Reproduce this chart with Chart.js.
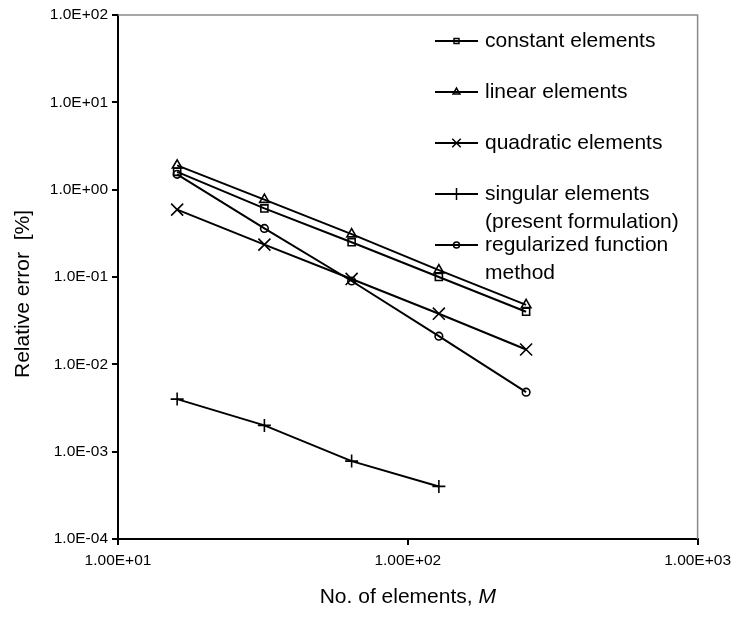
<!DOCTYPE html>
<html><head><meta charset="utf-8">
<script src="https://cdn.jsdelivr.net/npm/chart.js@4/dist/chart.umd.min.js"></script>
<style>html,body{margin:0;padding:0;background:#fff}#wrap{width:737px;height:619px;position:relative}</style>
</head><body><div id="wrap"><canvas id="c"></canvas></div>
<script>
// ---- data ----
const elementCounts = [16, 32, 64, 128, 256];
const constantElements = [1.6, 0.61, 0.25, 0.10, 0.040];
const linearElements = [1.9, 0.77, 0.31, 0.12, 0.048];
const quadraticElements = [0.59, 0.235, 0.095, 0.038, 0.0148];
const singularElements = [0.0040, 0.0020, 0.00078, 0.00040];
const regularizedMethod = [1.5, 0.36, 0.09, 0.021, 0.0048];

const xTickValues = [10, 100, 1000];
const xTickLabels = ['1.00E+01', '1.00E+02', '1.00E+03'];
const yTickValues = [1e-4, 1e-3, 1e-2, 1e-1, 1, 10, 100];
const yTickLabels = ['1.0E-04', '1.0E-03', '1.0E-02', '1.0E-01', '1.0E+00', '1.0E+01', '1.0E+02'];

const seriesNames = [
  ['constant elements'],
  ['linear elements'],
  ['quadratic elements'],
  ['singular elements', '(present formulation)'],
  ['regularized function', 'method']
];
const seriesValues = [constantElements, linearElements, quadraticElements, singularElements, regularizedMethod];
const seriesStyles = ['rect', 'triangle', 'crossRot', 'cross', 'circle'];
const seriesRadius = [5, 5.5, 8.5, 6.5, 3.8];
const legendRadius = [3.5, 4, 6, 6, 3];

const FONT = '"Liberation Sans", Arial, sans-serif';

function toPoints(vals) {
  return vals.map((v, i) => ({ x: elementCounts[i], y: v }));
}

const datasets = seriesValues.map((vals, i) => ({
  label: seriesNames[i].join(' '),
  data: toPoints(vals),
  borderColor: '#000',
  borderWidth: 2,
  pointStyle: seriesStyles[i],
  pointRadius: seriesRadius[i],
  pointBorderColor: '#000',
  pointBackgroundColor: 'rgba(0,0,0,0)',
  pointBorderWidth: 1.6,
  fill: false,
  tension: 0
}));

function drawMarker(ctx, style, x, y, r) {
  ctx.beginPath();
  if (style === 'rect') {
    const s = Math.SQRT1_2 * r;
    ctx.rect(x - s, y - s, 2 * s, 2 * s);
  } else if (style === 'triangle') {
    ctx.moveTo(x, y - r);
    ctx.lineTo(x + r * Math.sin(Math.PI / 3), y + r / 2);
    ctx.lineTo(x - r * Math.sin(Math.PI / 3), y + r / 2);
    ctx.closePath();
  } else if (style === 'crossRot') {
    const s = Math.SQRT1_2 * r;
    ctx.moveTo(x - s, y - s); ctx.lineTo(x + s, y + s);
    ctx.moveTo(x - s, y + s); ctx.lineTo(x + s, y - s);
  } else if (style === 'cross') {
    ctx.moveTo(x, y - r); ctx.lineTo(x, y + r);
    ctx.moveTo(x - r, y); ctx.lineTo(x + r, y);
  } else if (style === 'circle') {
    ctx.arc(x, y, r, 0, Math.PI * 2);
  }
  ctx.stroke();
}

const decorPlugin = {
  id: 'decor',
  beforeDraw(chart) {
    const ctx = chart.ctx;
    ctx.save();
    ctx.fillStyle = '#fff';
    ctx.fillRect(0, 0, chart.width, chart.height);
    ctx.restore();
  },
  beforeDatasetsDraw(chart) {
    const { ctx, chartArea: a } = chart;
    ctx.save();
    ctx.strokeStyle = '#8a8a8a';
    ctx.lineWidth = 1.5;
    ctx.beginPath();
    ctx.moveTo(a.left, a.top);
    ctx.lineTo(a.right, a.top);
    ctx.lineTo(a.right, a.bottom);
    ctx.stroke();
    ctx.restore();
  },
  afterDraw(chart) {
    const { ctx, chartArea: a } = chart;
    ctx.save();
    // legend
    ctx.font = '21px ' + FONT;
    ctx.fillStyle = '#000';
    ctx.strokeStyle = '#000';
    ctx.textBaseline = 'middle';
    ctx.textAlign = 'left';
    const lx0 = a.left + 317, lx1 = a.left + 360, tx = a.left + 367;
    let y = a.top + 26;
    seriesNames.forEach((lines, i) => {
      ctx.lineWidth = 2;
      ctx.beginPath();
      ctx.moveTo(lx0, y); ctx.lineTo(lx1, y);
      ctx.stroke();
      ctx.lineWidth = 1.5;
      drawMarker(ctx, seriesStyles[i], (lx0 + lx1) / 2, y, legendRadius[i]);
      lines.forEach((t, k) => ctx.fillText(t, tx, y + k * 28));
      y += 51;
    });
    // y axis title
    ctx.save();
    ctx.translate(23, a.top + 279);
    ctx.rotate(-Math.PI / 2);
    ctx.textAlign = 'center';
    ctx.textBaseline = 'middle';
    ctx.font = '21px ' + FONT;
    ctx.fillText('Relative error  [%]', 0, 0);
    ctx.restore();
    // x axis title with italic M
    const part1 = 'No. of elements, ';
    const part2 = 'M';
    ctx.font = '21px ' + FONT;
    const w1 = ctx.measureText(part1).width;
    ctx.font = 'italic 21px ' + FONT;
    const w2 = ctx.measureText(part2).width;
    const cx = (a.left + a.right) / 2;
    const ty = a.bottom + 58;
    let sx = cx - (w1 + w2) / 2;
    ctx.textAlign = 'left';
    ctx.textBaseline = 'middle';
    ctx.font = '21px ' + FONT;
    ctx.fillText(part1, sx, ty);
    ctx.font = 'italic 21px ' + FONT;
    ctx.fillText(part2, sx + w1, ty);
    ctx.restore();
  }
};

new Chart(document.getElementById('c'), {
  type: 'line',
  data: { datasets },
  plugins: [decorPlugin],
  options: {
    responsive: true,
    maintainAspectRatio: false,
    animation: false,
    layout: { padding: { left: 0, right: 39, top: 15, bottom: 0 } },
    plugins: { legend: { display: false }, tooltip: { enabled: false } },
    scales: {
      x: {
        type: 'logarithmic',
        min: 10, max: 1000,
        afterBuildTicks: s => { s.ticks = xTickValues.map(v => ({ value: v })); },
        afterFit: s => { s.height = 80; },
        ticks: {
          autoSkip: false, maxRotation: 0, color: '#000', padding: 6,
          font: { family: FONT, size: 15.5 },
          callback: (v, i) => xTickLabels[i]
        },
        grid: { drawOnChartArea: false, drawTicks: true, tickLength: 6, color: '#000', lineWidth: 2 },
        border: { display: true, color: '#000', width: 2 }
      },
      y: {
        type: 'logarithmic',
        min: 1e-4, max: 100,
        afterBuildTicks: s => { s.ticks = yTickValues.map(v => ({ value: v })); },
        afterFit: s => { s.width = 118; },
        ticks: {
          autoSkip: false, color: '#000', padding: 4,
          font: { family: FONT, size: 15.5 },
          callback: (v, i) => yTickLabels[i]
        },
        grid: { drawOnChartArea: false, drawTicks: true, tickLength: 6, color: '#000', lineWidth: 2 },
        border: { display: true, color: '#000', width: 2 }
      }
    }
  }
});
</script>
</body></html>
